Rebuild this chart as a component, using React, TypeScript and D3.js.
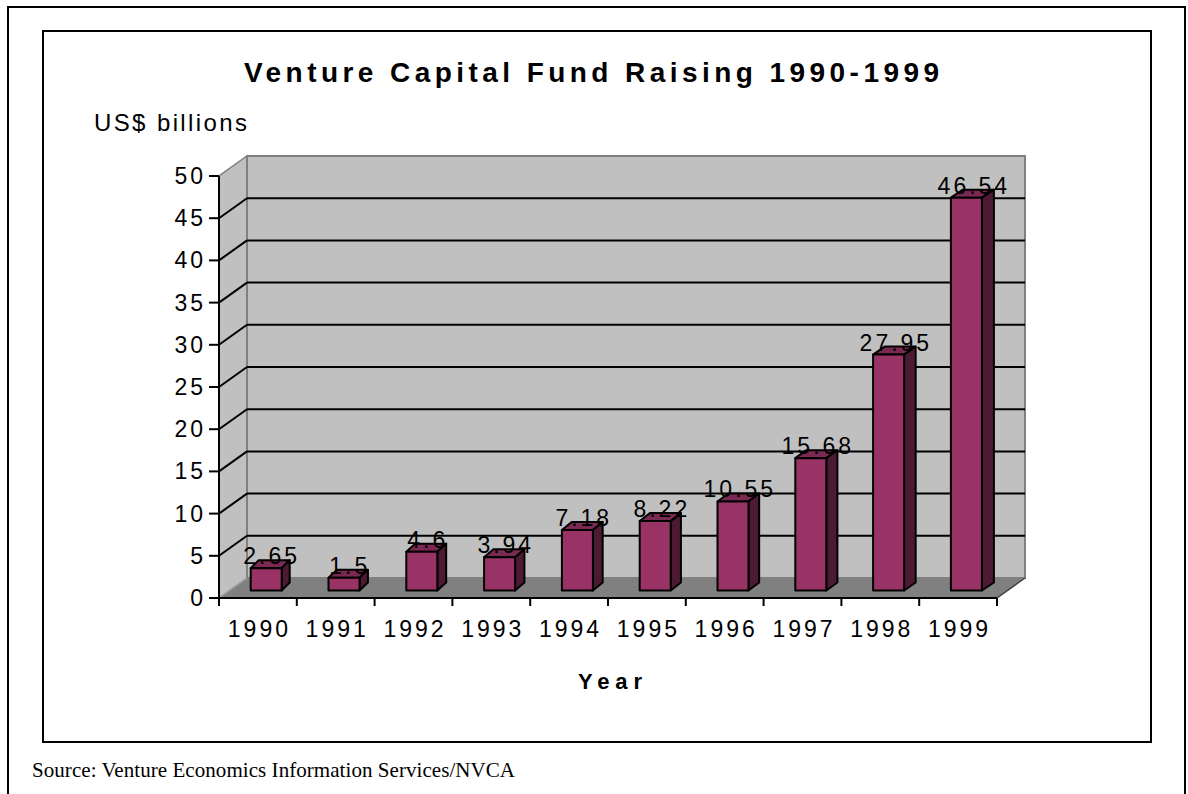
import React from "react";
import * as d3 from "d3";

const years = ["1990","1991","1992","1993","1994","1995","1996","1997","1998","1999"];
const values = [2.65, 1.5, 4.6, 3.94, 7.18, 8.22, 10.55, 15.68, 27.95, 46.54];
const yTicks = [0, 5, 10, 15, 20, 25, 30, 35, 40, 45, 50];
const labels = ["2.65","1.5","4.6","3.94","7.18","8.22","10.55","15.68","27.95","46.54"];

const W = 1188, H = 794;
const X0 = 219, X1 = 997, Y0 = 598, Y1 = 176;
const DX = 28, DY = -20; // back wall depth
const FDX = 8.3, FDY = -7.5; // bar front face depth
const BDY = -8;

export default function App() {
  const x = d3.scaleBand<string>().domain(years).range([X0, X1]).paddingInner(0).paddingOuter(0);
  const y = d3.scaleLinear().domain([0, 50]).range([Y0, Y1]);
  const bw = 31;
  const bdxScale = d3.scaleLinear().domain([0, years.length - 1]).range([8, 12]);
  const font = "Liberation Sans, Arial, sans-serif";
  const pts = (arr: number[][]) => arr.map(p => p.join(",")).join(" ");
  const LS = 3;
  const FS = 23;

  return (
    <svg width={W} height={H} style={{ position: "absolute", left: 0, top: 0 }}>
      <rect x={0} y={0} width={W} height={H} fill="#fff" />
      <rect x={8} y={7} width={1177} height={800} fill="none" stroke="#000" strokeWidth={2} />
      <rect x={43} y={31} width={1108} height={711} fill="#fff" stroke="#000" strokeWidth={2} />
      <text x={244} y={82} fontFamily={font} fontWeight="bold" fontSize={28} textLength={695} lengthAdjust="spacing">Venture Capital Fund Raising 1990-1999</text>
      <text x={94} y={131} fontFamily={font} fontSize={24} textLength={153} lengthAdjust="spacing">US$ billions</text>

      {/* left wall */}
      <polygon points={pts([[X0, Y0], [X0 + DX, Y0 + DY], [X0 + DX, Y1 + DY], [X0, Y1]])} fill="#c0c0c0" stroke="#808080" strokeWidth={1.5} />
      {/* back wall */}
      <rect x={X0 + DX} y={Y1 + DY} width={X1 - X0} height={Y0 - Y1} fill="#c0c0c0" stroke="#808080" strokeWidth={2} />
      {/* floor */}
      <polygon points={pts([[X0, Y0], [X1, Y0], [X1 + DX, Y0 + DY], [X0 + DX, Y0 + DY]])} fill="#808080" stroke="none" />
      <line x1={X0} y1={Y0} x2={X0 + DX} y2={Y0 + DY} stroke="#a0a0a0" strokeWidth={1.5} />
      <line x1={X1} y1={Y0} x2={X1 + DX} y2={Y0 + DY} stroke="#404040" strokeWidth={1.5} />

      {/* gridlines */}
      {yTicks.filter(t => t > 0 && t < 50).map(t => (
        <g key={t}>
          <line x1={X0} y1={y(t)} x2={X0 + DX} y2={y(t) + DY} stroke="#000" strokeWidth={2} />
          <line x1={X0 + DX} y1={y(t) + DY} x2={X1 + DX} y2={y(t) + DY} stroke="#000" strokeWidth={2} />
        </g>
      ))}

      {/* bars */}
      {values.map((v, i) => {
        const xl = (x(years[i]) as number) + (x.bandwidth() - bw) / 2 + FDX;
        const xr = xl + bw;
        const yb = Y0 + FDY;
        const yt = yb - (Y0 - y(v));
        const bdx = bdxScale(i);
        return (
          <g key={years[i]} stroke="#000" strokeWidth={2} strokeLinejoin="round">
            <polygon points={pts([[xl, yt], [xl + bdx, yt + BDY], [xr + bdx, yt + BDY], [xr, yt]])} fill="#7a2952" />
            <polygon points={pts([[xr, yt], [xr + bdx, yt + BDY], [xr + bdx, yb + BDY], [xr, yb]])} fill="#4d1a33" />
            <rect x={xl} y={yt} width={bw} height={yb - yt} fill="#993366" />
          </g>
        );
      })}

      {/* data labels */}
      {values.map((v, i) => {
        const xl = (x(years[i]) as number) + (x.bandwidth() - bw) / 2 + FDX;
        const yt = Y0 + FDY - (Y0 - y(v));
        const cx = xl + bw / 2 + bdxScale(i) / 2;
        return (
          <text key={"l" + i} x={cx + LS / 2} y={yt - 4} textAnchor="middle" fontFamily={font} fontSize={FS} letterSpacing={LS} fill="#000">{labels[i]}</text>
        );
      })}

      {/* axes */}
      <line x1={X0} y1={Y0} x2={X0} y2={Y1} stroke="#000" strokeWidth={2} />
      <line x1={X0} y1={Y0} x2={X1} y2={Y0} stroke="#000" strokeWidth={2} />
      {yTicks.map(t => (
        <g key={"yt" + t}>
          <line x1={X0 - 10} y1={y(t)} x2={X0} y2={y(t)} stroke="#000" strokeWidth={2} />
          <text x={203 + LS} y={y(t) + 8} textAnchor="end" fontFamily={font} fontSize={FS} letterSpacing={LS}>{t}</text>
        </g>
      ))}
      {years.map((yr, i) => (
        <line key={"xt" + yr} x1={x(yr) as number} y1={Y0} x2={x(yr) as number} y2={Y0 + 8} stroke="#000" strokeWidth={2} />
      ))}
      <line x1={X1} y1={Y0} x2={X1} y2={Y0 + 8} stroke="#000" strokeWidth={2} />
      {years.map(yr => (
        <text key={"xl" + yr} x={(x(yr) as number) + x.bandwidth() / 2 + LS / 2} y={637} textAnchor="middle" fontFamily={font} fontSize={FS} letterSpacing={LS}>{yr}</text>
      ))}
      <text x={578} y={689} fontFamily={font} fontWeight="bold" fontSize={22} textLength={64} lengthAdjust="spacing">Year</text>
      <text x={32} y={777} fontFamily="Liberation Serif, Times New Roman, serif" fontSize={21} textLength={483} lengthAdjust="spacing">Source: Venture Economics Information Services/NVCA</text>
    </svg>
  );
}
